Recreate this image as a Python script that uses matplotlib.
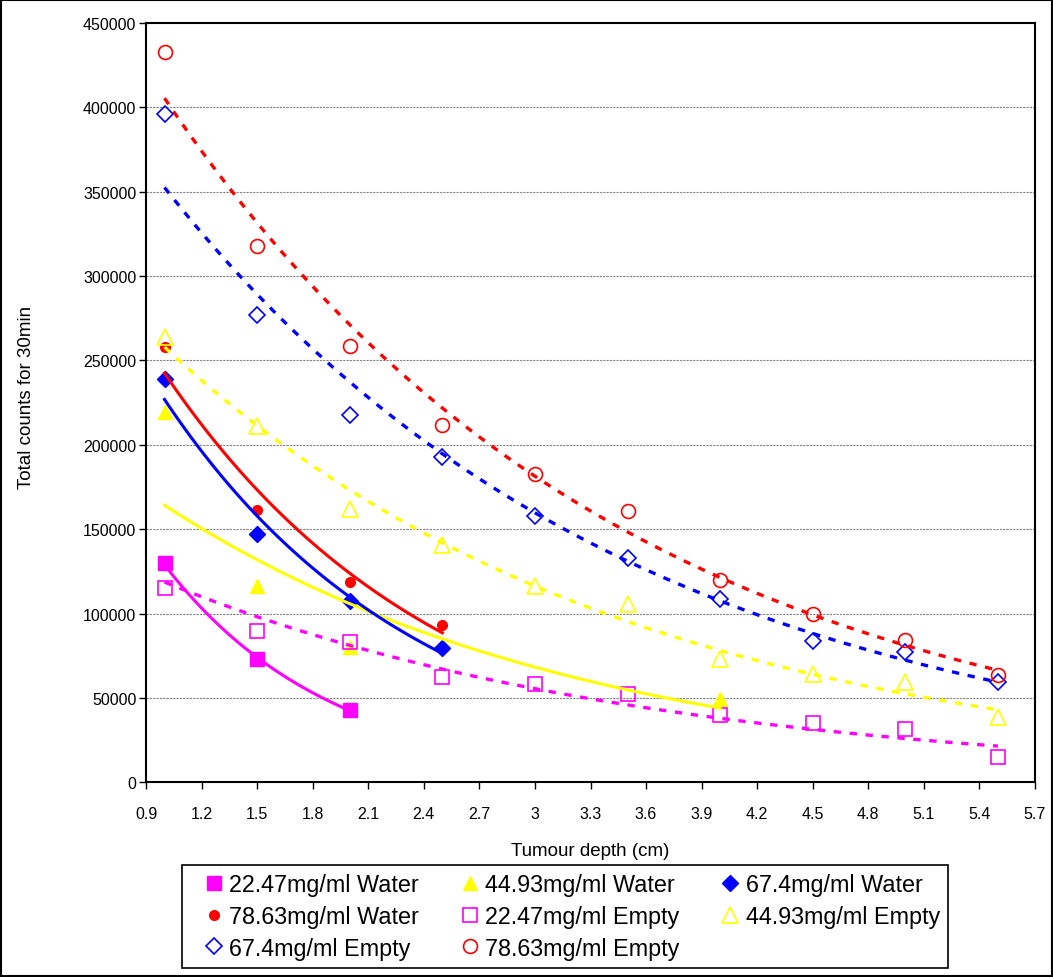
import matplotlib
matplotlib.use("Agg")
import matplotlib.pyplot as plt
from matplotlib.patches import Rectangle
import numpy as np

plt.rcParams['font.family'] = ['Liberation Sans', 'DejaVu Sans']

# tumour depth (cm) for each series
depth_water_short = [1.0, 1.5, 2.0]
depth_water_yellow = [1.0, 1.5, 2.0, 4.0]
depth_water_long = [1.0, 1.5, 2.0, 2.5]
depth_empty = [1.0, 1.5, 2.0, 2.5, 3.0, 3.5, 4.0, 4.5, 5.0, 5.5]

# total counts for 30 min
water_22 = [129800, 73000, 42800]
water_44 = [219500, 116400, 80100, 49300]
water_67 = [239200, 147400, 107500, 79300]
water_78 = [257900, 161400, 118800, 93300]
empty_22 = [114900, 89400, 83000, 62300, 58200, 52300, 39800, 35100, 31600, 15000]
empty_44 = [263700, 211000, 162200, 140700, 116200, 105600, 73000, 64100, 59400, 38700]
empty_67 = [396000, 276900, 217600, 192600, 157700, 132800, 108500, 83600, 77300, 59600]
empty_78 = [433000, 318100, 258300, 212000, 182500, 160600, 119800, 99700, 84300, 63500]

MAGENTA = '#FF00FF'
YELLOW = '#FFFF00'
BLUE = '#0000FF'
RED = '#FF0000'

# (label, x, y, colour, marker, filled, markersize)
series = [
    ("22.47mg/ml Water", depth_water_short, water_22, MAGENTA, 's', True, 9.5),
    ("44.93mg/ml Water", depth_water_yellow, water_44, YELLOW, '^', True, 10),
    ("67.4mg/ml Water", depth_water_long, water_67, BLUE, 'D', True, 8),
    ("78.63mg/ml Water", depth_water_long, water_78, RED, 'o', True, 7),
    ("22.47mg/ml Empty", depth_empty, empty_22, MAGENTA, 's', False, 10),
    ("44.93mg/ml Empty", depth_empty, empty_44, YELLOW, '^', False, 11),
    ("67.4mg/ml Empty", depth_empty, empty_67, BLUE, 'D', False, 8),
    ("78.63mg/ml Empty", depth_empty, empty_78, RED, 'o', False, 10),
]


def exp_trend(x, y):
    """Excel style exponential trendline: fit ln(y) linear in x"""
    b, ln_a = np.polyfit(x, np.log(y), 1)
    xs = np.linspace(min(x), max(x), 100)
    return xs, np.exp(ln_a) * np.exp(b * xs)


W, H = 1053, 978
fig = plt.figure(figsize=(W / 100, H / 100), dpi=100)
ax = fig.add_axes([146 / W, 1 - 783.3 / H, (1035 - 146) / W, (783.3 - 24) / H])

handles = {}
for label, x, y, col, mk, filled, ms in series:
    if filled:
        h, = ax.plot(x, y, linestyle='none', marker=mk, markersize=ms,
                     color=col, mec=col, zorder=3)
    else:
        h, = ax.plot(x, y, linestyle='none', marker=mk, markersize=ms,
                     mfc='none', mec=col, mew=1.2, zorder=3)
    handles[label] = h
    xs, ys = exp_trend(x, y)
    if filled:
        ax.plot(xs, ys, color=col, lw=2.2, zorder=4)
    else:
        ax.plot(xs, ys, color=col, lw=2.4, linestyle=(0, (2.2, 2.6)), zorder=4)

ax.set_xlim(0.9, 5.7)
ax.set_ylim(0, 450000)
xt = np.round(np.arange(0.9, 5.71, 0.3), 1)
ax.set_xticks(xt)
ax.set_xticklabels([f"{v:g}" for v in xt])
yt = np.arange(0, 450001, 50000)
ax.set_yticks(yt)
ax.set_yticklabels([str(v) for v in yt])
ax.tick_params(labelsize=11.5, length=5, width=1, direction='out')
ax.tick_params(axis='x', pad=12)
ax.tick_params(axis='y', pad=2)

for v in yt[1:-1]:
    ax.axhline(v, color='#808080', lw=0.8, linestyle=(0, (2, 1)), zorder=1)

for s in ax.spines.values():
    s.set_linewidth(1.5)
    s.set_color('black')

ax.set_xlabel("Tumour depth (cm)", fontsize=13.5, labelpad=15)
fig.text(27 / W, 1 - 397 / H, "Total counts for 30min", rotation=90,
         fontsize=13.5, ha='center', va='center')

# legend is filled column by column, reference reads row by row
order = ["22.47mg/ml Water", "78.63mg/ml Water", "67.4mg/ml Empty",
         "44.93mg/ml Water", "22.47mg/ml Empty", "78.63mg/ml Empty",
         "67.4mg/ml Water", "44.93mg/ml Empty"]
leg = fig.legend([handles[k] for k in order], order, ncol=3, loc='center',
                 bbox_to_anchor=(182 / W, 1 - 966 / H, (948 - 182) / W, (966 - 869) / H),
                 mode='expand', fontsize=16.8, frameon=True, fancybox=False,
                 edgecolor='black', framealpha=1, borderpad=0.35,
                 labelspacing=0.37, handlelength=2.0, handletextpad=-0.35,
                 columnspacing=0.5, borderaxespad=0)
leg.get_frame().set_linewidth(1.2)

fig.patches.append(Rectangle((0.001, 0.001), 0.998, 0.998, transform=fig.transFigure,
                             fill=False, edgecolor='black', lw=1.5))

fig.savefig("out.png", dpi=100)
